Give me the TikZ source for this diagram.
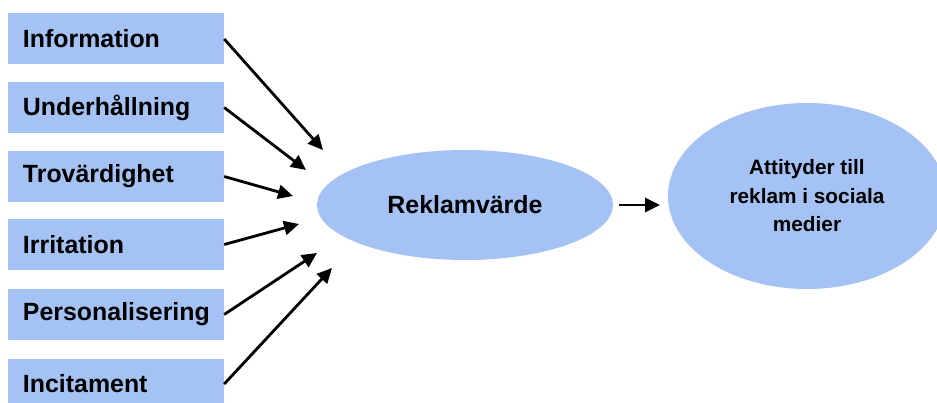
\documentclass[tikz,border=0pt]{standalone}
\usepackage{fontspec}
\setmainfont{Liberation Sans}
\usetikzlibrary{shapes.geometric,arrows.meta}
\definecolor{boxblue}{HTML}{A4C2F4}
\tikzset{
  factor/.style={rectangle, fill=boxblue, minimum width=216pt, minimum height=51pt,
    text width=186pt, inner xsep=15pt, inner ysep=0pt, align=left,
    font=\fontsize{24.9}{28}\selectfont\bfseries},
  oval/.style={ellipse, fill=boxblue, inner sep=0pt},
  arr/.style={line width=2.8pt, -{Triangle[length=15pt,width=14pt]}}
}
\begin{document}
\begin{tikzpicture}[x=1pt,y=-1pt]
\useasboundingbox (0,0) rectangle (937,403);
\clip (0,0) rectangle (937,403);
\node[factor] (info) at (116,39) {Information};
\node[factor] (under) at (116,107.5) {Underhållning};
\node[factor] (trov) at (116,176.5) {Trovärdighet};
\node[factor] (irr) at (116,244.5) {Irritation};
\node[factor] (pers) at (116,314.5) {Personalisering};
\node[factor] (inc) at (116,384) {Incitament};
\node[oval, minimum width=296pt, minimum height=110pt,
  font=\fontsize{24.9}{28}\selectfont\bfseries] (rek) at (465,205) {Reklamvärde};
\node[oval, minimum width=278pt, minimum height=186pt, align=center,
  font=\fontsize{20.8}{28.5}\selectfont\bfseries] (att) at (807,196)
  {Attityder till\\reklam i sociala\\medier};
\coordinate (tinfo) at (323,150);
\coordinate (tunder) at (306,170);
\coordinate (ttrov) at (293,196);
\coordinate (tirr) at (299,224);
\coordinate (tpers) at (317,253);
\coordinate (tinc) at (332,268);
\coordinate (mstart) at (619,205);
\coordinate (mend) at (660,205);
\draw[arr] (info.east) -- (tinfo);
\draw[arr] (under.east) -- (tunder);
\draw[arr] (trov.east) -- (ttrov);
\draw[arr] (irr.east) -- (tirr);
\draw[arr] (pers.east) -- (tpers);
\draw[arr] (inc.east) -- (tinc);
\draw[arr] (mstart) -- (mend);
\end{tikzpicture}
\end{document}
